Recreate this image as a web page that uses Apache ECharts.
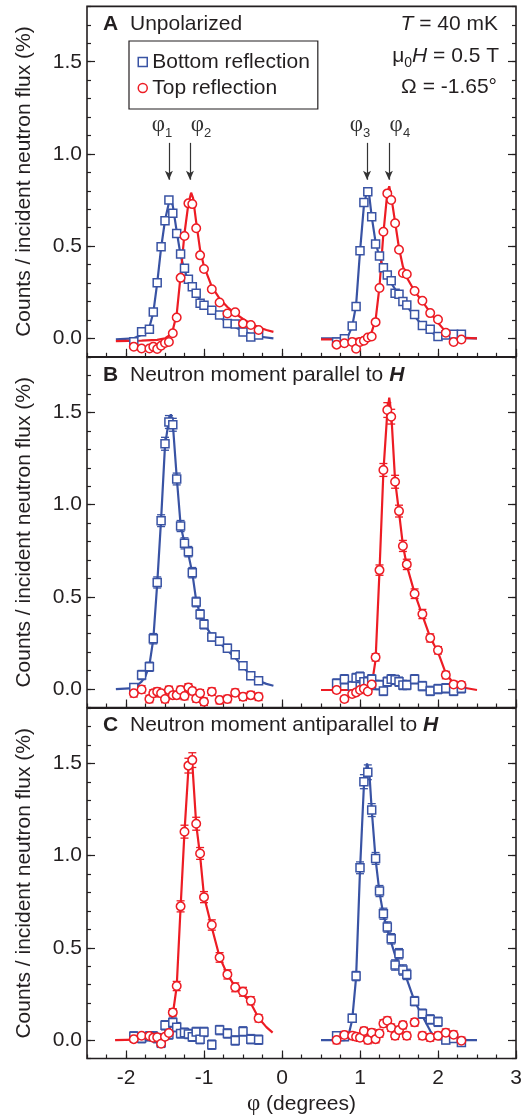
<!DOCTYPE html>
<html><head><meta charset="utf-8">
<script src="https://cdn.jsdelivr.net/npm/echarts@6/dist/echarts.min.js"></script>
<style>html,body{margin:0;padding:0;background:#fff}#c{width:527px;height:1118px}</style>
</head><body><div id="c"></div>
<script>
// ---------- data ----------
const xLeft  = [-1.9,-1.8,-1.7,-1.65,-1.6,-1.55,-1.5,-1.45,-1.4,-1.35,-1.3,-1.25,-1.2,-1.15,-1.1,-1.05,-1.0,-0.9,-0.8,-0.7,-0.6,-0.5,-0.4,-0.3];
const xRight = [0.7,0.8,0.9,0.95,1.0,1.05,1.1,1.15,1.2,1.25,1.3,1.35,1.4,1.45,1.5,1.55,1.6,1.7,1.8,1.9,2.0,2.1,2.2,2.3];

// Panel A (unpolarized)
const A_bottom_left  = [-0.018,0.036,0.049,0.143,0.302,0.497,0.638,0.750,0.678,0.569,0.457,0.380,0.320,0.280,0.244,0.190,0.180,0.153,0.126,0.080,0.078,0.034,0.007,0.018];
const A_top_left     = [-0.045,-0.055,-0.055,-0.045,-0.058,-0.040,-0.025,-0.020,0.028,0.113,0.328,0.555,0.732,0.728,0.597,0.450,0.376,0.266,0.194,0.135,0.142,0.080,0.072,0.045];
const A_bottom_right = [-0.020,-0.002,0.067,0.173,0.475,0.737,0.795,0.659,0.511,0.447,0.383,0.344,0.313,0.244,0.239,0.200,0.181,0.130,0.070,0.050,0.010,0.018,0.022,0.022];
const A_top_right    = [-0.034,-0.027,-0.020,-0.056,-0.020,-0.013,0.005,0.010,0.088,0.273,0.578,0.786,0.750,0.624,0.480,0.354,0.348,0.257,0.204,0.137,0.102,0.030,-0.020,-0.006];

// Panel B (parallel)
const B_bottom_left  = [0.009,0.076,0.121,0.273,0.578,0.913,1.330,1.448,1.433,1.139,0.884,0.790,0.745,0.631,0.472,0.405,0.351,0.282,0.259,0.221,0.186,0.127,0.072,0.045];
const B_top_left     = [-0.023,-0.002,-0.054,-0.023,-0.014,-0.023,-0.054,-0.005,-0.033,-0.033,-0.005,-0.038,0.009,-0.011,-0.051,-0.023,-0.069,-0.014,-0.060,-0.054,-0.020,-0.042,-0.033,-0.042];
const B_bottom_right = [0.030,0.053,0.016,0.060,0.067,0.040,0.040,0.053,0.022,0.022,-0.010,0.040,0.053,0.050,0.040,0.022,0.022,0.053,0.016,-0.010,0.000,0.004,-0.010,0.004];
const B_top_right    = [-0.005,-0.054,-0.027,-0.018,-0.005,0.002,-0.013,0.025,0.172,0.645,1.188,1.513,1.477,1.124,0.965,0.776,0.676,0.517,0.407,0.277,0.210,0.076,0.025,0.022];

// Panel C (antiparallel)
const C_bottom_left  = [0.020,0.010,0.020,0.020,0.010,-0.015,0.080,0.030,0.095,0.070,0.036,0.040,0.033,0.018,0.044,0.005,0.044,-0.025,0.054,0.036,-0.002,0.047,0.005,0.002];
const C_top_left     = [0.005,0.023,0.022,0.013,0.015,-0.020,0.018,0.038,0.150,0.293,0.725,1.130,1.488,1.518,1.173,1.012,0.775,0.624,0.448,0.356,0.286,0.262,0.213,0.118];
const C_bottom_right = [0.023,0.018,0.118,0.347,0.934,1.401,1.452,1.247,0.985,0.808,0.685,0.613,0.549,0.407,0.468,0.380,0.356,0.211,0.143,0.112,0.099,0.000,0.009,-0.013];
const C_top_right    = [0.000,0.027,0.023,0.018,0.013,0.049,0.000,0.040,0.005,0.036,0.090,0.105,0.067,0.023,0.054,0.081,0.023,0.096,0.023,0.014,0.023,0.040,0.029,-0.004];

// error bars (panels B and C)
const B_bottom_left_err  = [0.020,0.025,0.025,0.028,0.030,0.032,0.035,0.035,0.035,0.032,0.030,0.030,0.028,0.028,0.026,0.025,0.025,0.022,0.022,0.022,0.020,0.020,0.020,0.020];
const B_top_left_err     = [0.020,0.020,0.020,0.020,0.020,0.020,0.020,0.020,0.020,0.020,0.020,0.020,0.020,0.020,0.020,0.020,0.020,0.020,0.020,0.020,0.020,0.020,0.020,0.020];
const B_bottom_right_err = [0.025,0.025,0.025,0.025,0.025,0.025,0.025,0.025,0.025,0.025,0.025,0.025,0.025,0.025,0.025,0.025,0.025,0.025,0.025,0.025,0.025,0.025,0.025,0.025];
const B_top_right_err    = [0.015,0.015,0.015,0.015,0.015,0.015,0.015,0.015,0.020,0.028,0.035,0.040,0.040,0.035,0.032,0.030,0.028,0.026,0.025,0.022,0.020,0.020,0.018,0.018];
const C_bottom_left_err  = [0.025,0.025,0.025,0.025,0.025,0.025,0.025,0.025,0.025,0.025,0.025,0.025,0.025,0.025,0.025,0.025,0.025,0.025,0.025,0.025,0.025,0.025,0.025,0.025];
const C_top_left_err     = [0.015,0.015,0.015,0.015,0.015,0.015,0.015,0.015,0.020,0.025,0.030,0.035,0.040,0.040,0.035,0.032,0.030,0.028,0.026,0.025,0.024,0.024,0.022,0.020];
const C_bottom_right_err = [0.020,0.020,0.022,0.025,0.032,0.038,0.040,0.035,0.032,0.030,0.030,0.028,0.028,0.028,0.028,0.028,0.028,0.025,0.025,0.025,0.025,0.020,0.020,0.020];
const C_top_right_err    = [0.020,0.020,0.020,0.020,0.020,0.020,0.020,0.020,0.020,0.020,0.020,0.020,0.020,0.020,0.020,0.020,0.020,0.020,0.020,0.020,0.020,0.020,0.020,0.020];

// fitted curves [phi, value]
const A_fit_bottom_left  = [[-2.13,-0.005],[-1.9,0.0],[-1.8,0.02],[-1.7,0.06],[-1.65,0.14],[-1.6,0.30],[-1.55,0.49],[-1.5,0.64],[-1.45,0.735],[-1.43,0.758],[-1.4,0.72],[-1.35,0.58],[-1.3,0.45],[-1.25,0.37],[-1.2,0.31],[-1.1,0.235],[-1.0,0.185],[-0.9,0.15],[-0.8,0.115],[-0.7,0.085],[-0.6,0.06],[-0.5,0.04],[-0.4,0.022],[-0.3,0.01],[-0.11,0.0]];
const A_fit_top_left     = [[-2.13,-0.015],[-1.8,-0.012],[-1.6,-0.008],[-1.5,0.0],[-1.45,0.015],[-1.4,0.045],[-1.35,0.13],[-1.3,0.34],[-1.25,0.57],[-1.2,0.73],[-1.165,0.79],[-1.14,0.76],[-1.1,0.63],[-1.05,0.48],[-1.0,0.39],[-0.9,0.28],[-0.8,0.215],[-0.7,0.17],[-0.6,0.135],[-0.5,0.105],[-0.4,0.08],[-0.3,0.06],[-0.2,0.045],[-0.11,0.035]];
const A_fit_bottom_right = [[0.5,0.0],[0.8,0.0],[0.85,0.015],[0.9,0.065],[0.95,0.18],[1.0,0.47],[1.05,0.72],[1.09,0.80],[1.12,0.77],[1.15,0.66],[1.2,0.52],[1.25,0.44],[1.3,0.385],[1.4,0.30],[1.5,0.235],[1.6,0.175],[1.7,0.12],[1.8,0.07],[1.9,0.035],[2.0,0.012],[2.1,0.003],[2.5,0.0]];
const A_fit_top_right    = [[0.5,-0.005],[0.9,-0.005],[1.0,0.0],[1.1,0.012],[1.15,0.035],[1.2,0.10],[1.25,0.28],[1.3,0.57],[1.35,0.79],[1.375,0.825],[1.4,0.77],[1.45,0.63],[1.5,0.49],[1.55,0.39],[1.6,0.33],[1.7,0.255],[1.8,0.20],[1.9,0.14],[2.0,0.085],[2.1,0.035],[2.2,0.005],[2.5,0.0]];
const B_fit_bottom_left  = [[-2.13,0.0],[-1.9,0.005],[-1.8,0.04],[-1.75,0.07],[-1.7,0.13],[-1.65,0.27],[-1.6,0.57],[-1.55,0.92],[-1.5,1.32],[-1.45,1.46],[-1.425,1.49],[-1.4,1.44],[-1.35,1.15],[-1.3,0.89],[-1.25,0.79],[-1.2,0.73],[-1.15,0.63],[-1.1,0.48],[-1.05,0.405],[-1.0,0.355],[-0.9,0.29],[-0.8,0.25],[-0.7,0.21],[-0.6,0.17],[-0.5,0.12],[-0.4,0.075],[-0.3,0.045],[-0.2,0.028],[-0.11,0.018]];
const B_fit_top_right    = [[0.5,-0.005],[1.0,-0.005],[1.1,0.0],[1.15,0.02],[1.2,0.16],[1.25,0.64],[1.3,1.18],[1.35,1.50],[1.375,1.58],[1.4,1.50],[1.45,1.13],[1.5,0.96],[1.55,0.78],[1.6,0.67],[1.7,0.52],[1.8,0.40],[1.9,0.28],[2.0,0.20],[2.1,0.085],[2.2,0.03],[2.3,0.01],[2.5,-0.005]];
const C_fit_top_left     = [[-2.14,0.0],[-1.6,0.005],[-1.5,0.015],[-1.45,0.04],[-1.4,0.14],[-1.35,0.29],[-1.3,0.72],[-1.25,1.13],[-1.2,1.47],[-1.17,1.53],[-1.15,1.50],[-1.1,1.17],[-1.05,1.0],[-1.0,0.78],[-0.9,0.61],[-0.8,0.45],[-0.7,0.355],[-0.6,0.29],[-0.5,0.25],[-0.4,0.20],[-0.3,0.12],[-0.2,0.07],[-0.12,0.04]];
const C_fit_bottom_right = [[0.5,0.0],[0.8,0.0],[0.85,0.02],[0.9,0.11],[0.95,0.34],[1.0,0.92],[1.05,1.38],[1.09,1.50],[1.12,1.45],[1.15,1.25],[1.2,0.98],[1.25,0.80],[1.3,0.68],[1.35,0.60],[1.4,0.53],[1.45,0.46],[1.5,0.41],[1.6,0.33],[1.7,0.21],[1.8,0.13],[1.9,0.05],[1.95,0.02],[2.0,0.005],[2.1,0.0],[2.5,0.0]];

// arrows (panel A)
const arrowPhi   = [-1.45,-1.18,1.09,1.37];
const arrowIndex = ['1','2','3','4'];
const arrowTop = 1.06, arrowTip = 0.86;

// ticks
const xMajorTicks = [-2,-1,0,1,2,3];
const yMajorTicks = [0,0.5,1.0,1.5];

// ---------- chart ----------
const blue = '#3953a4', red = '#ed1c24', ink = '#231f20';
const FONT = '"Liberation Sans", Arial, sans-serif';
const FS = 21;

const gridTops = [6.4, 357.1, 708.1];
const grid = gridTops.map(t => ({left:87, width:429, top:t, height:350.4, show:true,
  borderColor:ink, borderWidth:1.6, backgroundColor:'transparent'}));

const xAxis = [], yAxis = [];
gridTops.forEach((t, g) => {
  xAxis.push({gridIndex:g, type:'value', position:'bottom', min:-2.5, max:3, interval:0.25,
    axisLine:{show:false, onZero:false}, splitLine:{show:false},
    axisTick:{show:true, inside:true, length:4, lineStyle:{color:ink, width:1.2}},
    axisLabel:{show:false}});
  xAxis.push({gridIndex:g, type:'value', position:'bottom', min:-2.5, max:3,
    axisLine:{show:false, onZero:false}, splitLine:{show:false},
    axisTick:{show:true, inside:true, length:8, customValues:xMajorTicks, lineStyle:{color:ink, width:1.2}},
    axisLabel:{show:g===2, customValues:xMajorTicks, margin:9, fontSize:FS, fontFamily:FONT, color:ink,
      formatter:v => String(v)},
    name: g===2 ? '{p|φ} (degrees)' : '', nameLocation:'middle', nameGap:34,
    nameTextStyle:{fontSize:FS, fontFamily:FONT, color:ink,
      rich:{p:{fontSize:23, fontFamily:'"Liberation Serif", serif', color:ink}}}});
  ['left','right'].forEach(pos => {
    yAxis.push({gridIndex:g, type:'value', position:pos, offset:0, min:-0.1, max:1.8, interval:0.1,
      axisLine:{show:false, onZero:false}, splitLine:{show:false},
      axisTick:{show:true, inside:true, length:4, lineStyle:{color:ink, width:1.2}},
      axisLabel:{show:false}});
    yAxis.push({gridIndex:g, type:'value', position:pos, offset:0, min:-0.1, max:1.8,
      axisLine:{show:false, onZero:false}, splitLine:{show:false},
      axisTick:{show:true, inside:true, length:8, customValues:yMajorTicks, lineStyle:{color:ink, width:1.2}},
      axisLabel:{show:pos==='left', customValues:yMajorTicks, margin:5, fontSize:FS, fontFamily:FONT, color:ink,
        formatter:v => v.toFixed(1)},
      name: pos==='left' ? 'Counts / incident neutron flux (%)' : '', nameLocation:'middle', nameGap:52,
      nameTextStyle:{fontSize:FS, fontFamily:FONT, color:ink}});
  });
});

function fitSeries(g, pts, color, extra) {
  return Object.assign({type:'line', xAxisIndex:2*g, yAxisIndex:4*g, data:pts, showSymbol:false, symbol:'none',
    lineStyle:{color:color, width:2.2}, z:2, silent:true, animation:false}, extra || {});
}
function markerSeries(g, xs, ys, kind) {
  const isB = kind === 'b';
  return {type:'scatter', name: isB ? 'Bottom reflection' : 'Top reflection',
    xAxisIndex:2*g, yAxisIndex:4*g, symbol: isB ? 'rect' : 'circle', symbolSize: isB ? 8 : 8.5,
    z: isB ? 4 : 5, silent:true, animation:false,
    itemStyle:{color:'#fff', borderColor: isB ? blue : red, borderWidth:1.5, opacity:1},
    data: xs.map((x, i) => [x, ys[i]])};
}
function errSeries(g, xs, ys, es, color) {
  return {type:'custom', xAxisIndex:2*g, yAxisIndex:4*g, z:3, silent:true, animation:false,
    data: xs.map((x, i) => [x, ys[i], es[i]]), encode:{x:0, y:1},
    renderItem:(params, api) => {
      const x0 = api.value(0), y0 = api.value(1), e = api.value(2);
      const a = api.coord([x0, y0 + e]), b = api.coord([x0, y0 - e]);
      const hw = 4, st = {stroke:color, lineWidth:1.3};
      return {type:'group', children:[
        {type:'line', shape:{x1:a[0], y1:a[1], x2:b[0], y2:b[1]}, style:st},
        {type:'line', shape:{x1:a[0]-hw, y1:a[1], x2:a[0]+hw, y2:a[1]}, style:st},
        {type:'line', shape:{x1:b[0]-hw, y1:b[1], x2:b[0]+hw, y2:b[1]}, style:st}]};
    }};
}

const arrowMark = {
  silent:true, animation:false, symbol:['none','arrow'], symbolSize:[6,9],
  lineStyle:{color:'#333', width:1.2, type:'solid'},
  label:{show:true, position:'start', distance:3, color:'#333',
    formatter: p => {
      const s = '{p|φ}{s|' + arrowIndex[p.dataIndex] + '}';
      return p.dataIndex % 2 === 0 ? s + '{gl|}' : '{gr|}' + s;
    },
    rich:{p:{fontSize:23, fontFamily:'"Liberation Serif", serif', color:'#333', padding:[0,0,3,0], verticalAlign:'bottom'},
          s:{fontSize:13, fontFamily:FONT, color:'#333', verticalAlign:'bottom'},
          gl:{width:14, fontSize:13}, gr:{width:22, fontSize:13}}},
  data: arrowPhi.map(x => [{coord:[x, arrowTop]}, {coord:[x, arrowTip]}])
};

const series = [
  // Panel A
  fitSeries(0, A_fit_bottom_left, blue, {markLine:arrowMark}),
  fitSeries(0, A_fit_bottom_right, blue),
  fitSeries(0, A_fit_top_left, red),
  fitSeries(0, A_fit_top_right, red),
  markerSeries(0, xLeft, A_bottom_left, 'b'),
  markerSeries(0, xRight, A_bottom_right, 'b'),
  markerSeries(0, xLeft, A_top_left, 't'),
  markerSeries(0, xRight, A_top_right, 't'),
  // Panel B
  fitSeries(1, B_fit_bottom_left, blue),
  fitSeries(1, B_fit_top_right, red),
  errSeries(1, xLeft, B_bottom_left, B_bottom_left_err, blue),
  errSeries(1, xRight, B_bottom_right, B_bottom_right_err, blue),
  errSeries(1, xLeft, B_top_left, B_top_left_err, red),
  errSeries(1, xRight, B_top_right, B_top_right_err, red),
  markerSeries(1, xLeft, B_bottom_left, 'b'),
  markerSeries(1, xRight, B_bottom_right, 'b'),
  markerSeries(1, xLeft, B_top_left, 't'),
  markerSeries(1, xRight, B_top_right, 't'),
  // Panel C
  fitSeries(2, C_fit_top_left, red),
  fitSeries(2, C_fit_bottom_right, blue),
  errSeries(2, xLeft, C_bottom_left, C_bottom_left_err, blue),
  errSeries(2, xRight, C_bottom_right, C_bottom_right_err, blue),
  errSeries(2, xLeft, C_top_left, C_top_left_err, red),
  errSeries(2, xRight, C_top_right, C_top_right_err, red),
  markerSeries(2, xLeft, C_bottom_left, 'b'),
  markerSeries(2, xRight, C_bottom_right, 'b'),
  markerSeries(2, xLeft, C_top_left, 't'),
  markerSeries(2, xRight, C_top_right, 't')
];

const txt = {fontSize:FS, fontFamily:FONT, fill:ink};
function richBase() {
  return {
    b:{fontSize:FS, fontFamily:FONT, fill:ink, fontWeight:'bold', width:27},
    n:{fontSize:FS, fontFamily:FONT, fill:ink},
    bi:{fontSize:FS, fontFamily:FONT, fill:ink, fontWeight:'bold', fontStyle:'italic'}
  };
}
const graphic = [
  {type:'text', x:103, y:24, style:{text:'{b|A}{n|Unpolarized}', rich:richBase(), verticalAlign:'middle', align:'left'}},
  {type:'text', x:103, y:375, style:{text:'{b|B}{n|Neutron moment parallel to }{bi|H}', rich:richBase(), verticalAlign:'middle', align:'left'}},
  {type:'text', x:103, y:725, style:{text:'{b|C}{n|Neutron moment antiparallel to }{bi|H}', rich:richBase(), verticalAlign:'middle', align:'left'}},
  {type:'text', x:498, y:24, style:{text:'{i|T}{n| = 40 mK}', verticalAlign:'middle', align:'right',
    rich:{i:{fontSize:FS, fontFamily:FONT, fill:ink, fontStyle:'italic'}, n:{fontSize:FS, fontFamily:FONT, fill:ink}}}},
  {type:'text', x:499, y:58, style:{text:'{n|μ}{s|0}{i|H}{n| = 0.5 T}', verticalAlign:'middle', align:'right',
    rich:{n:{fontSize:FS, fontFamily:FONT, fill:ink, padding:[0,0,4,0], verticalAlign:'bottom'},
          i:{fontSize:FS, fontFamily:FONT, fill:ink, fontStyle:'italic', padding:[0,0,4,0], verticalAlign:'bottom'},
          s:{fontSize:14, fontFamily:FONT, fill:ink, verticalAlign:'bottom'}}}},
  {type:'text', x:497, y:87, style:Object.assign({text:'Ω = -1.65°', verticalAlign:'middle', align:'right'}, txt)}
];

const option = {
  animation:false,
  backgroundColor:'#fff',
  textStyle:{fontFamily:FONT},
  grid, xAxis, yAxis, series, graphic,
  legend:{show:true, left:129, top:41, orient:'vertical', selectedMode:false,
    padding:[10.5,8,10.5,8.5], itemGap:5, itemWidth:9, itemHeight:9,
    borderColor:ink, borderWidth:1.2, backgroundColor:'#fff',
    textStyle:{fontSize:FS, fontFamily:FONT, color:ink},
    data:[
      {name:'Bottom reflection', icon:'rect', itemStyle:{color:'#fff', borderColor:blue, borderWidth:1.5}},
      {name:'Top reflection', icon:'circle', itemStyle:{color:'#fff', borderColor:red, borderWidth:1.5}}
    ]}
};
const chart = echarts.init(document.getElementById('c'));
chart.setOption(option);
</script>
</body></html>
